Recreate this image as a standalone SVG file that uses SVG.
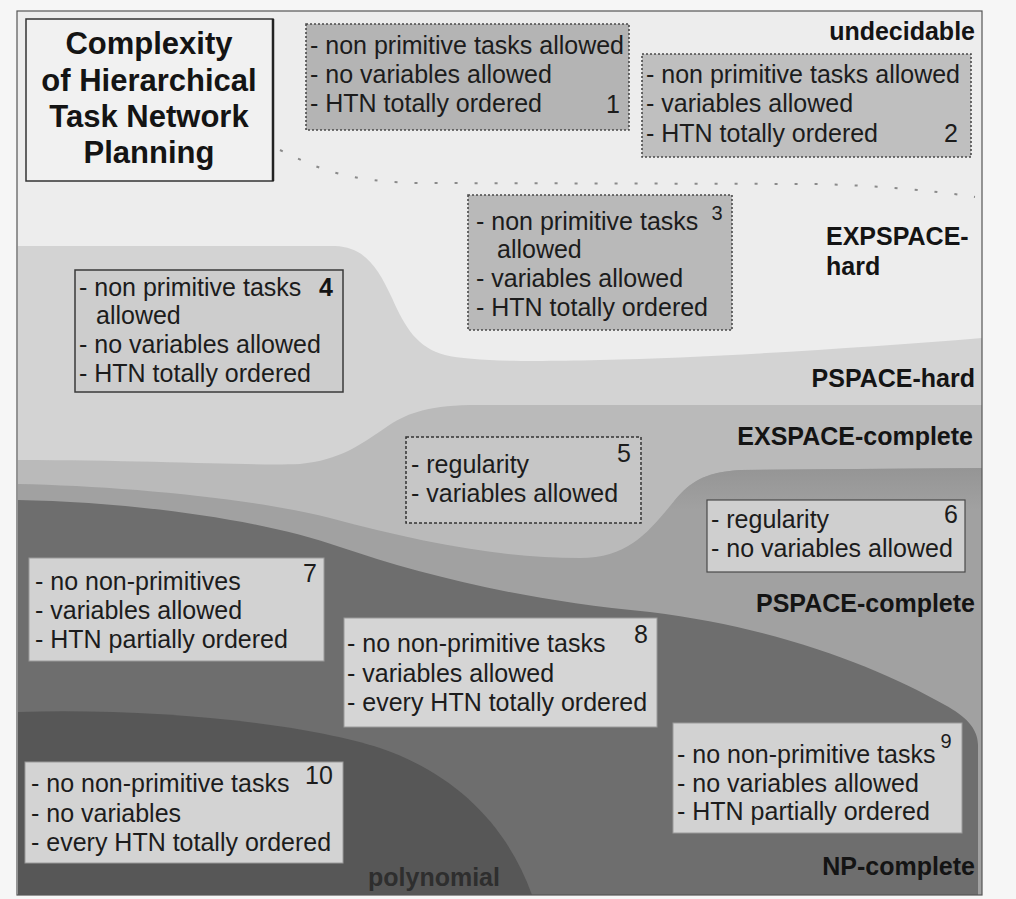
<svg xmlns="http://www.w3.org/2000/svg" width="1016" height="899" viewBox="0 0 1016 899">
  <style>
    .t { font-family: "Liberation Sans", Arial, sans-serif; font-size: 25px; fill: #1c1c1c; }
    .b { font-family: "Liberation Sans", Arial, sans-serif; font-size: 25px; font-weight: bold; fill: #141414; }
    .ttl { font-size: 31px; text-anchor: middle; }
    .cls { text-anchor: end; }
    .num { font-family: "Liberation Sans", Arial, sans-serif; font-size: 20px; fill: #1c1c1c; text-anchor: middle; }
    .dotbox { stroke: #4a4a4a; stroke-width: 1.6; stroke-dasharray: 2 2; }
    .solidbox { stroke: #3a3a3a; stroke-width: 1.5; }
    .softbox { stroke: #9a9a9a; stroke-width: 1; }
  </style>
  <defs>
    <clipPath id="frameClip">
      <rect x="17" y="11" width="965" height="884"/>
    </clipPath>
    <linearGradient id="rimShade" x1="0" y1="468" x2="0" y2="510" gradientUnits="userSpaceOnUse">
      <stop offset="0" stop-color="#959595"/>
      <stop offset="1" stop-color="#a1a1a1"/>
    </linearGradient>
  </defs>

  <!-- paper -->
  <rect x="0" y="0" width="1016" height="899" fill="#f6f6f6"/>

  <!-- complexity regions, lightest (top) to darkest (bottom) -->
  <g id="regions" clip-path="url(#frameClip)">
    <rect x="17" y="11" width="965" height="884" fill="#ededed"/>
    <!-- PSPACE-hard -->
    <path d="M18,246 L335,246 C365,247 378,268 392,298 C405,328 418,348 445,355 C470,361 520,362 600,360 C720,357 860,348 982,338 L982,895 L18,895 Z" fill="#d3d3d3"/>
    <!-- EXSPACE-complete -->
    <path d="M18,460 C150,460 250,466 300,464 C340,460 360,445 385,428 C405,414 425,406 470,405 L982,405 L982,895 L18,895 Z" fill="#bababa"/>
    <!-- PSPACE-complete, shaded slightly darker along its upper edge -->
    <path d="M18,484 C120,486 250,498 330,518 C420,542 500,558 580,558 C630,558 650,530 675,500 C690,482 705,472 740,470 L982,468 L982,895 L18,895 Z" fill="#a1a1a1"/>
    <path d="M675,500 C690,482 705,472 740,470 L982,468 L982,510 L668,510 Z" fill="url(#rimShade)"/>
    <!-- NP-complete -->
    <path d="M18,500 C120,502 250,516 340,547 C420,574 520,600 650,612 C780,628 880,668 945,705 C965,716 978,728 978,745 L978,895 L18,895 Z" fill="#6e6e6e"/>
    <!-- polynomial -->
    <path d="M18,712 C150,708 300,722 380,748 C450,772 505,820 532,895 L18,895 Z" fill="#575757"/>
    <!-- undecidable / EXPSPACE-hard boundary -->
    <path d="M280,150 C320,170 350,182 420,183 L820,184 C880,186 930,190 975,197" fill="none" stroke="#8a8a8a" stroke-width="2" stroke-dasharray="3 17"/>
  </g>

  <!-- outer frame -->
  <rect x="17" y="11" width="965" height="884" fill="none" stroke="#555" stroke-width="1.2"/>

  <!-- class labels -->
  <g id="labels">
    <text class="b cls" x="975" y="40">undecidable</text>
    <text class="b" x="826" y="245">EXPSPACE-</text>
    <text class="b" x="826" y="275">hard</text>
    <text class="b cls" x="975" y="387">PSPACE-hard</text>
    <text class="b cls" x="973" y="445">EXSPACE-complete</text>
    <text class="b cls" x="975" y="612">PSPACE-complete</text>
    <text class="b cls" x="975" y="875">NP-complete</text>
    <text class="b" x="368" y="886" style="fill:#2e2e2e">polynomial</text>
  </g>

  <!-- title -->
  <g id="title">
    <rect x="26" y="19" width="247" height="162" fill="#f1f1f1" stroke="#333" stroke-width="1.5"/>
    <line x1="273" y1="19" x2="273" y2="181" stroke="#222" stroke-width="2.5"/>
    <text class="b ttl" x="149" y="54">Complexity</text>
    <text class="b ttl" x="149" y="91">of Hierarchical</text>
    <text class="b ttl" x="149" y="127">Task Network</text>
    <text class="b ttl" x="149" y="163">Planning</text>
  </g>

  <g id="node1">
    <rect x="306" y="24" width="323" height="106" fill="#b4b4b4" class="dotbox"/>
    <text class="t" x="310" y="54">- non primitive tasks allowed</text>
    <text class="t" x="310" y="83">- no variables allowed</text>
    <text class="t" x="310" y="112">- HTN totally ordered</text>
    <text class="t" x="606" y="113">1</text>
  </g>

  <g id="node2">
    <rect x="642" y="54" width="329" height="103" fill="#bfbfbf" class="dotbox"/>
    <text class="t" x="646" y="83">- non primitive tasks allowed</text>
    <text class="t" x="646" y="112">- variables allowed</text>
    <text class="t" x="646" y="142">- HTN totally ordered</text>
    <text class="t" x="944" y="142">2</text>
  </g>

  <g id="node3">
    <rect x="468" y="195" width="264" height="135" fill="#b9b9b9" class="dotbox"/>
    <text class="t" x="476" y="230">- non primitive tasks</text>
    <text class="num" x="717" y="220">3</text>
    <text class="t" x="497" y="258">allowed</text>
    <text class="t" x="476" y="287">- variables allowed</text>
    <text class="t" x="476" y="316">- HTN totally ordered</text>
  </g>

  <g id="node4">
    <rect x="75" y="270" width="268" height="122" fill="#cdcdcd" class="solidbox"/>
    <text class="t" x="79" y="296">- non primitive tasks</text>
    <text class="b" x="319" y="296">4</text>
    <text class="t" x="96" y="324">allowed</text>
    <text class="t" x="79" y="353">- no variables allowed</text>
    <text class="t" x="79" y="382">- HTN totally ordered</text>
  </g>

  <g id="node5">
    <rect x="406" y="437" width="235" height="86" fill="#c6c6c6" stroke="#333" stroke-width="1.5" stroke-dasharray="3 2"/>
    <text class="t" x="411" y="473">- regularity</text>
    <text class="t" x="411" y="502">- variables allowed</text>
    <text class="t" x="617" y="462">5</text>
  </g>

  <g id="node6">
    <rect x="707" y="500" width="258" height="72" fill="#cfcfcf" stroke="#4a4a4a" stroke-width="1.2"/>
    <text class="t" x="711" y="528">- regularity</text>
    <text class="t" x="711" y="557">- no variables allowed</text>
    <text class="t" x="944" y="523">6</text>
  </g>

  <g id="node7">
    <rect x="29" y="558" width="295" height="103" fill="#d2d2d2" class="softbox"/>
    <text class="t" x="35" y="590">- no non-primitives</text>
    <text class="t" x="35" y="619">- variables allowed</text>
    <text class="t" x="35" y="648">- HTN partially ordered</text>
    <text class="t" x="303" y="582">7</text>
  </g>

  <g id="node8">
    <rect x="344" y="618" width="313" height="109" fill="#d5d5d5" class="softbox"/>
    <text class="t" x="347" y="652">- no non-primitive tasks</text>
    <text class="t" x="347" y="682">- variables allowed</text>
    <text class="t" x="347" y="711">- every HTN totally ordered</text>
    <text class="t" x="634" y="643">8</text>
  </g>

  <g id="node9">
    <rect x="673" y="723" width="289" height="110" fill="#d2d2d2" class="softbox"/>
    <text class="t" x="677" y="763">- no non-primitive tasks</text>
    <text class="num" x="946" y="748">9</text>
    <text class="t" x="677" y="792">- no variables allowed</text>
    <text class="t" x="677" y="820">- HTN partially ordered</text>
  </g>

  <g id="node10">
    <rect x="25" y="762" width="318" height="101" fill="#d3d3d3" class="softbox"/>
    <text class="t" x="31" y="792">- no non-primitive tasks</text>
    <text class="t" x="31" y="822">- no variables</text>
    <text class="t" x="31" y="851">- every HTN totally ordered</text>
    <text class="t" x="305" y="784">10</text>
  </g>
</svg>
